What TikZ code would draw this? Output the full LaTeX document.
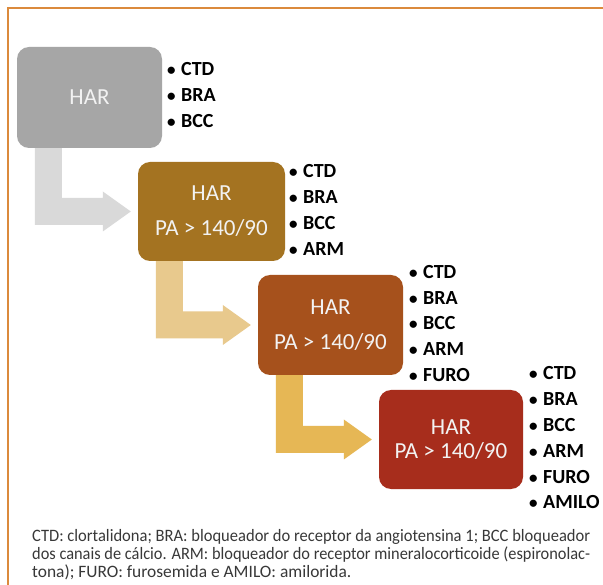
\documentclass[tikz,border=0pt]{standalone}
\usepackage{fontspec}
\setmainfont{Carlito}
\usetikzlibrary{calc}
\definecolor{boxgray}{HTML}{A6A6A6}
\definecolor{boxgold}{HTML}{A47321}
\definecolor{boxrust}{HTML}{A6511C}
\definecolor{boxred}{HTML}{A72D1C}
\definecolor{arrgray}{HTML}{D9D9D9}
\definecolor{arrtan}{HTML}{E8C98D}
\definecolor{arrgold}{HTML}{E6B755}
\definecolor{frameorange}{HTML}{DB8A3C}
\definecolor{boxtext}{HTML}{F2F2F2}
\definecolor{captext}{HTML}{383838}
\tikzset{
  stagebox/.style={rounded corners=12pt, inner sep=0pt, align=center,
    text=boxtext, font=\fontsize{23}{27}\selectfont},
  druglist/.style={anchor=west, inner sep=0pt, align=left,
    font=\fontsize{20}{25.8}\selectfont\bfseries, text=black},
  caption/.style={anchor=base west, inner sep=0pt, text=captext,
    font=\fontsize{17.4}{18}\selectfont},
}
\newcommand\Larrow[3]{\fill[#3] let \p1=(#1.south west), \p2=(#2.west) in
  (\x1+18pt,\y1) -- (\x1+45pt,\y1) -- (\x1+45pt,\y2+13.5pt) --
  (\x2-35pt,\y2+13.5pt) -- (\x2-35pt,\y2+20pt) -- (\x2-7pt,\y2) --
  (\x2-35pt,\y2-20pt) -- (\x2-35pt,\y2-13.5pt) -- (\x1+18pt,\y2-13.5pt) -- cycle;}
\newcommand\bul{\scalebox{0.85}{•}\hspace{5.5pt}}
\begin{document}
\begin{tikzpicture}[x=1pt,y=-1pt]
\useasboundingbox (0,0) rectangle (603,585);
\fill[white] (0,0) rectangle (603,585);
\draw[frameorange, line width=2pt] (8,585) -- (8,8) -- (603,8);

\node[stagebox, fill=boxgray, minimum width=145pt, minimum height=101pt] (b1) at (89.5,97.5) {HAR};
\node[stagebox, fill=boxgold, minimum width=147pt, minimum height=99pt] (b2) at (211.5,211.5) {HAR\\[8pt]PA > 140/90};
\node[stagebox, fill=boxrust, minimum width=145pt, minimum height=100pt] (b3) at (330.5,325) {HAR\\[8pt]PA > 140/90};
\node[stagebox, fill=boxred, minimum width=144pt, minimum height=99pt, font=\fontsize{23}{24}\selectfont] (b4) at (451,439.5) {HAR\\PA > 140/90};

\Larrow{b1}{b2}{arrgray}
\Larrow{b2}{b3}{arrtan}
\Larrow{b3}{b4}{arrgold}

\node[druglist] (l1) at (167,95) {\bul CTD\\\bul BRA\\\bul BCC};
\node[druglist] (l2) at (289,210) {\bul CTD\\\bul BRA\\\bul BCC\\\bul ARM};
\node[druglist] (l3) at (409,323.5) {\bul CTD\\\bul BRA\\\bul BCC\\\bul ARM\\\bul FURO};
\node[druglist] (l4) at (529,438) {\bul CTD\\\bul BRA\\\bul BCC\\\bul ARM\\\bul FURO\\\bul AMILO};

\node[caption] (c1) at (32,541) {\resizebox{558pt}{\height}{CTD: clortalidona; BRA: bloqueador do receptor da angiotensina 1; BCC bloqueador}};
\node[caption] (c2) at (32,559) {\resizebox{558pt}{\height}{dos canais de cálcio. ARM: bloqueador do receptor mineralocorticoide (espironolac-}};
\node[caption] (c3) at (32,577) {tona); FURO: furosemida e AMILO: amilorida.};
\end{tikzpicture}
\end{document}
